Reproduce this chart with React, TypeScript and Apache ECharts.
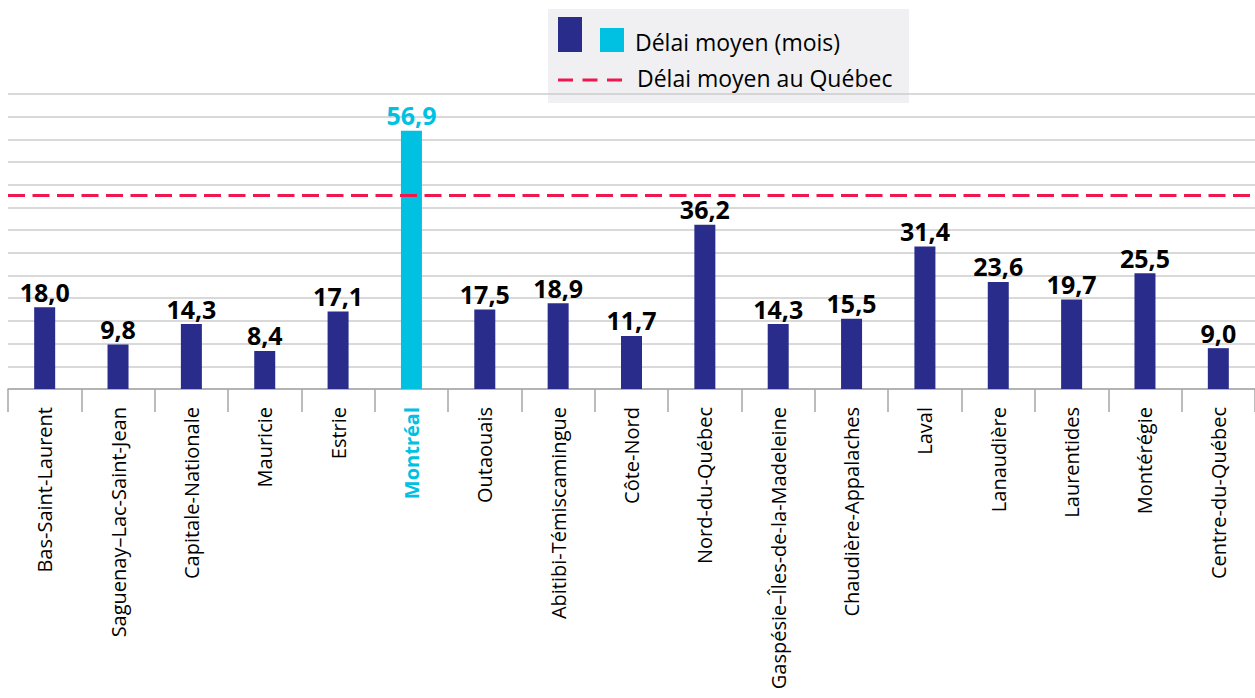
import React, { useEffect, useRef } from "react";
import * as echarts from "echarts";

const categories = [
  "Bas-Saint-Laurent",
  "Saguenay–Lac-Saint-Jean",
  "Capitale-Nationale",
  "Mauricie",
  "Estrie",
  "Montréal",
  "Outaouais",
  "Abitibi-Témiscamingue",
  "Côte-Nord",
  "Nord-du-Québec",
  "Gaspésie–Îles-de-la-Madeleine",
  "Chaudière-Appalaches",
  "Laval",
  "Lanaudière",
  "Laurentides",
  "Montérégie",
  "Centre-du-Québec",
];
const values = [18.0, 9.8, 14.3, 8.4, 17.1, 56.9, 17.5, 18.9, 11.7, 36.2, 14.3, 15.5, 31.4, 23.6, 19.7, 25.5, 9.0];
const highlighted = "Montréal";
const quebecAverage = 42.7;
const legendBars = "Délai moyen (mois)";
const legendLine = "Délai moyen au Québec";

const NAVY = "#2A2C8C";
const CYAN = "#00C1E2";
const RED = "#F0174F";
const FONT = "'Open Sans', sans-serif";

const fmt = (v: number) => v.toFixed(1).replace(".", ",");

export default function App() {
  const ref = useRef<HTMLDivElement>(null);
  useEffect(() => {
    if (!ref.current) return;
    const chart = echarts.init(ref.current, null, { renderer: "svg" });
    chart.setOption({
      animation: false,
      textStyle: { fontFamily: FONT },
      grid: { left: 8, right: 0, top: 94, bottom: 309, containLabel: false },
      xAxis: {
        type: "category",
        data: categories.map((c) =>
          c === highlighted
            ? { value: c, textStyle: { color: CYAN, fontWeight: "bold" } }
            : c
        ),
        axisLine: { lineStyle: { color: "#A6A6A6", width: 1.5 } },
        axisTick: { show: true, length: 23, lineStyle: { color: "#A6A6A6", width: 1.5 } },
        axisLabel: {
          rotate: 90,
          interval: 0,
          margin: 18,
          fontSize: 20,
          color: "#000",
          fontFamily: FONT,
        },
      },
      yAxis: {
        type: "value",
        min: 0,
        max: 65,
        interval: 5,
        axisLabel: { show: false },
        axisLine: { show: false },
        axisTick: { show: false },
        splitLine: { lineStyle: { color: "#CDCDCD", width: 1.5 } },
      },
      series: [
        {
          type: "bar",
          barWidth: 21,
          data: categories.map((c, i) => ({
            value: values[i],
            itemStyle: { color: c === highlighted ? CYAN : NAVY },
            label: c === highlighted ? { color: CYAN } : undefined,
          })),
          label: {
            show: true,
            position: "top",
            distance: 3,
            fontSize: 25,
            fontWeight: "bold",
            color: "#000",
            fontFamily: FONT,
            formatter: (p: any) => fmt(p.value),
          },
          markLine: {
            silent: true,
            symbol: "none",
            label: { show: false },
            lineStyle: { color: RED, type: [17, 7.5], width: 3 },
            data: [{ yAxis: quebecAverage }],
          },
        },
      ],
      graphic: [
        {
          type: "group",
          z: 100,
          children: [
            { type: "rect", shape: { x: 548, y: 9, width: 361, height: 94 }, style: { fill: "#F0F0F2" } },
            { type: "rect", shape: { x: 558, y: 17, width: 24, height: 35 }, style: { fill: NAVY } },
            { type: "rect", shape: { x: 600, y: 28, width: 24, height: 24 }, style: { fill: CYAN } },
            {
              type: "text",
              x: 635,
              y: 42,
              style: { text: legendBars, fontSize: 23, fontFamily: FONT, fill: "#000", verticalAlign: "middle" },
            },
            {
              type: "line",
              shape: { x1: 558, y1: 80, x2: 622, y2: 80 },
              style: { stroke: RED, lineWidth: 3, lineDash: [15, 9.5] },
            },
            {
              type: "text",
              x: 637,
              y: 78,
              style: { text: legendLine, fontSize: 23, fontFamily: FONT, fill: "#000", verticalAlign: "middle" },
            },
          ],
        },
      ],
    });
    return () => chart.dispose();
  }, []);
  return (
    <div
      ref={ref}
      style={{ position: "fixed", left: 0, top: 0, width: 1255, height: 698, background: "#fff" }}
    />
  );
}
